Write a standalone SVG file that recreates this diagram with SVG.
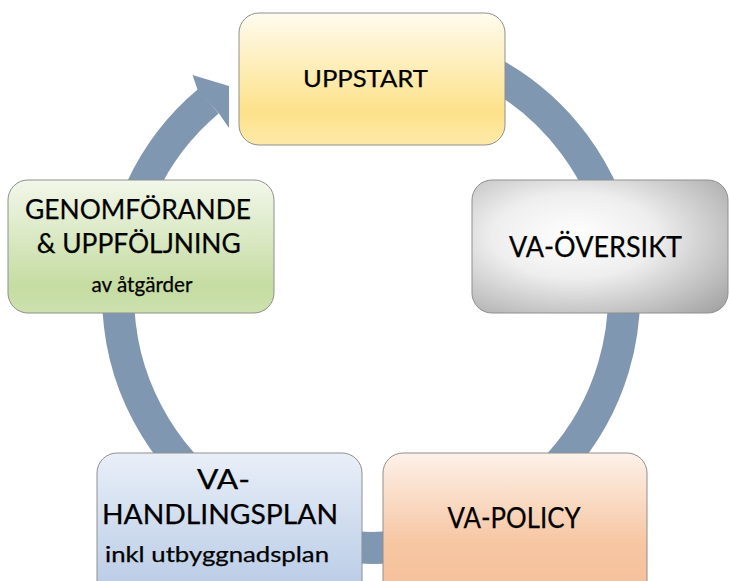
<svg xmlns="http://www.w3.org/2000/svg" width="729" height="581" viewBox="0 0 729 581">
<style>
.box{stroke:#8f8f8f;stroke-width:1}
.t{font-family:Lato,"Open Sans","Liberation Sans",sans-serif;fill:#000;text-anchor:middle;stroke:#000;stroke-width:0.25}
.ring{fill:none;stroke:#8097b2;stroke-width:32}
</style>
<defs>
<linearGradient id="gY" x1="0" y1="0" x2="0" y2="1">
<stop offset="0" stop-color="#fffbef"/><stop offset="0.75" stop-color="#fde28a"/><stop offset="1" stop-color="#fee9a9"/>
</linearGradient>
<radialGradient id="gG" cx="0.4" cy="0.42" r="0.8">
<stop offset="0" stop-color="#ffffff"/><stop offset="0.4" stop-color="#eeeeee"/><stop offset="1" stop-color="#a3a3a3"/>
</radialGradient>
<linearGradient id="gGr" x1="0" y1="0" x2="0" y2="1">
<stop offset="0" stop-color="#f2f7ea"/><stop offset="0.8" stop-color="#c5dca2"/><stop offset="1" stop-color="#cde1ae"/>
</linearGradient>
<linearGradient id="gB" x1="0" y1="0" x2="0" y2="1">
<stop offset="0" stop-color="#e9eff8"/><stop offset="1" stop-color="#b4c8e4"/>
</linearGradient>
<linearGradient id="gO" x1="0" y1="0" x2="0" y2="1">
<stop offset="0" stop-color="#fdf1e9"/><stop offset="0.6" stop-color="#f7c6a3"/><stop offset="0.85" stop-color="#f6c29d"/><stop offset="1" stop-color="#f9d0b2"/>
</linearGradient>
</defs>
<g id="connectors">
<path class="ring" d="M 371 42 A 253 253 0 1 1 208.4 101.2"/>
<polygon fill="#8097b2" points="197.5,89.5 192.5,75 229,86 229,128 219,113.5"/>
</g>
<g id="uppstart">
<rect class="box" x="239" y="13" width="266" height="132" rx="20" fill="url(#gY)"/>
<text class="t" x="365.5" y="87" font-size="24" textLength="125" lengthAdjust="spacingAndGlyphs">UPPSTART</text>
</g>
<g id="va-oversikt">
<rect class="box" x="472" y="180" width="256" height="133" rx="20" fill="url(#gG)"/>
<text class="t" x="595.5" y="257" font-size="28" textLength="173" lengthAdjust="spacingAndGlyphs">VA-ÖVERSIKT</text>
</g>
<g id="genomforande">
<rect class="box" x="8" y="180" width="266" height="133" rx="20" fill="url(#gGr)"/>
<text class="t" x="138" y="219" font-size="26" textLength="226" lengthAdjust="spacingAndGlyphs">GENOMFÖRANDE</text>
<text class="t" x="138.7" y="253" font-size="26" textLength="204" lengthAdjust="spacingAndGlyphs">&amp; UPPFÖLJNING</text>
<text class="t" x="142" y="292" font-size="21" textLength="101" lengthAdjust="spacingAndGlyphs">av åtgärder</text>
</g>
<g id="va-handlingsplan">
<rect class="box" x="97" y="453" width="265" height="150" rx="20" fill="url(#gB)"/>
<text class="t" x="223.5" y="489" font-size="27" textLength="53" lengthAdjust="spacingAndGlyphs">VA-</text>
<text class="t" x="220" y="524" font-size="27" textLength="236" lengthAdjust="spacingAndGlyphs">HANDLINGSPLAN</text>
<text class="t" x="217" y="562" font-size="21" textLength="224" lengthAdjust="spacingAndGlyphs">inkl utbyggnadsplan</text>
</g>
<g id="va-policy">
<rect class="box" x="383" y="453" width="264" height="150" rx="20" fill="url(#gO)"/>
<text class="t" x="514" y="528" font-size="28" textLength="133" lengthAdjust="spacingAndGlyphs">VA-POLICY</text>
</g>
</svg>
